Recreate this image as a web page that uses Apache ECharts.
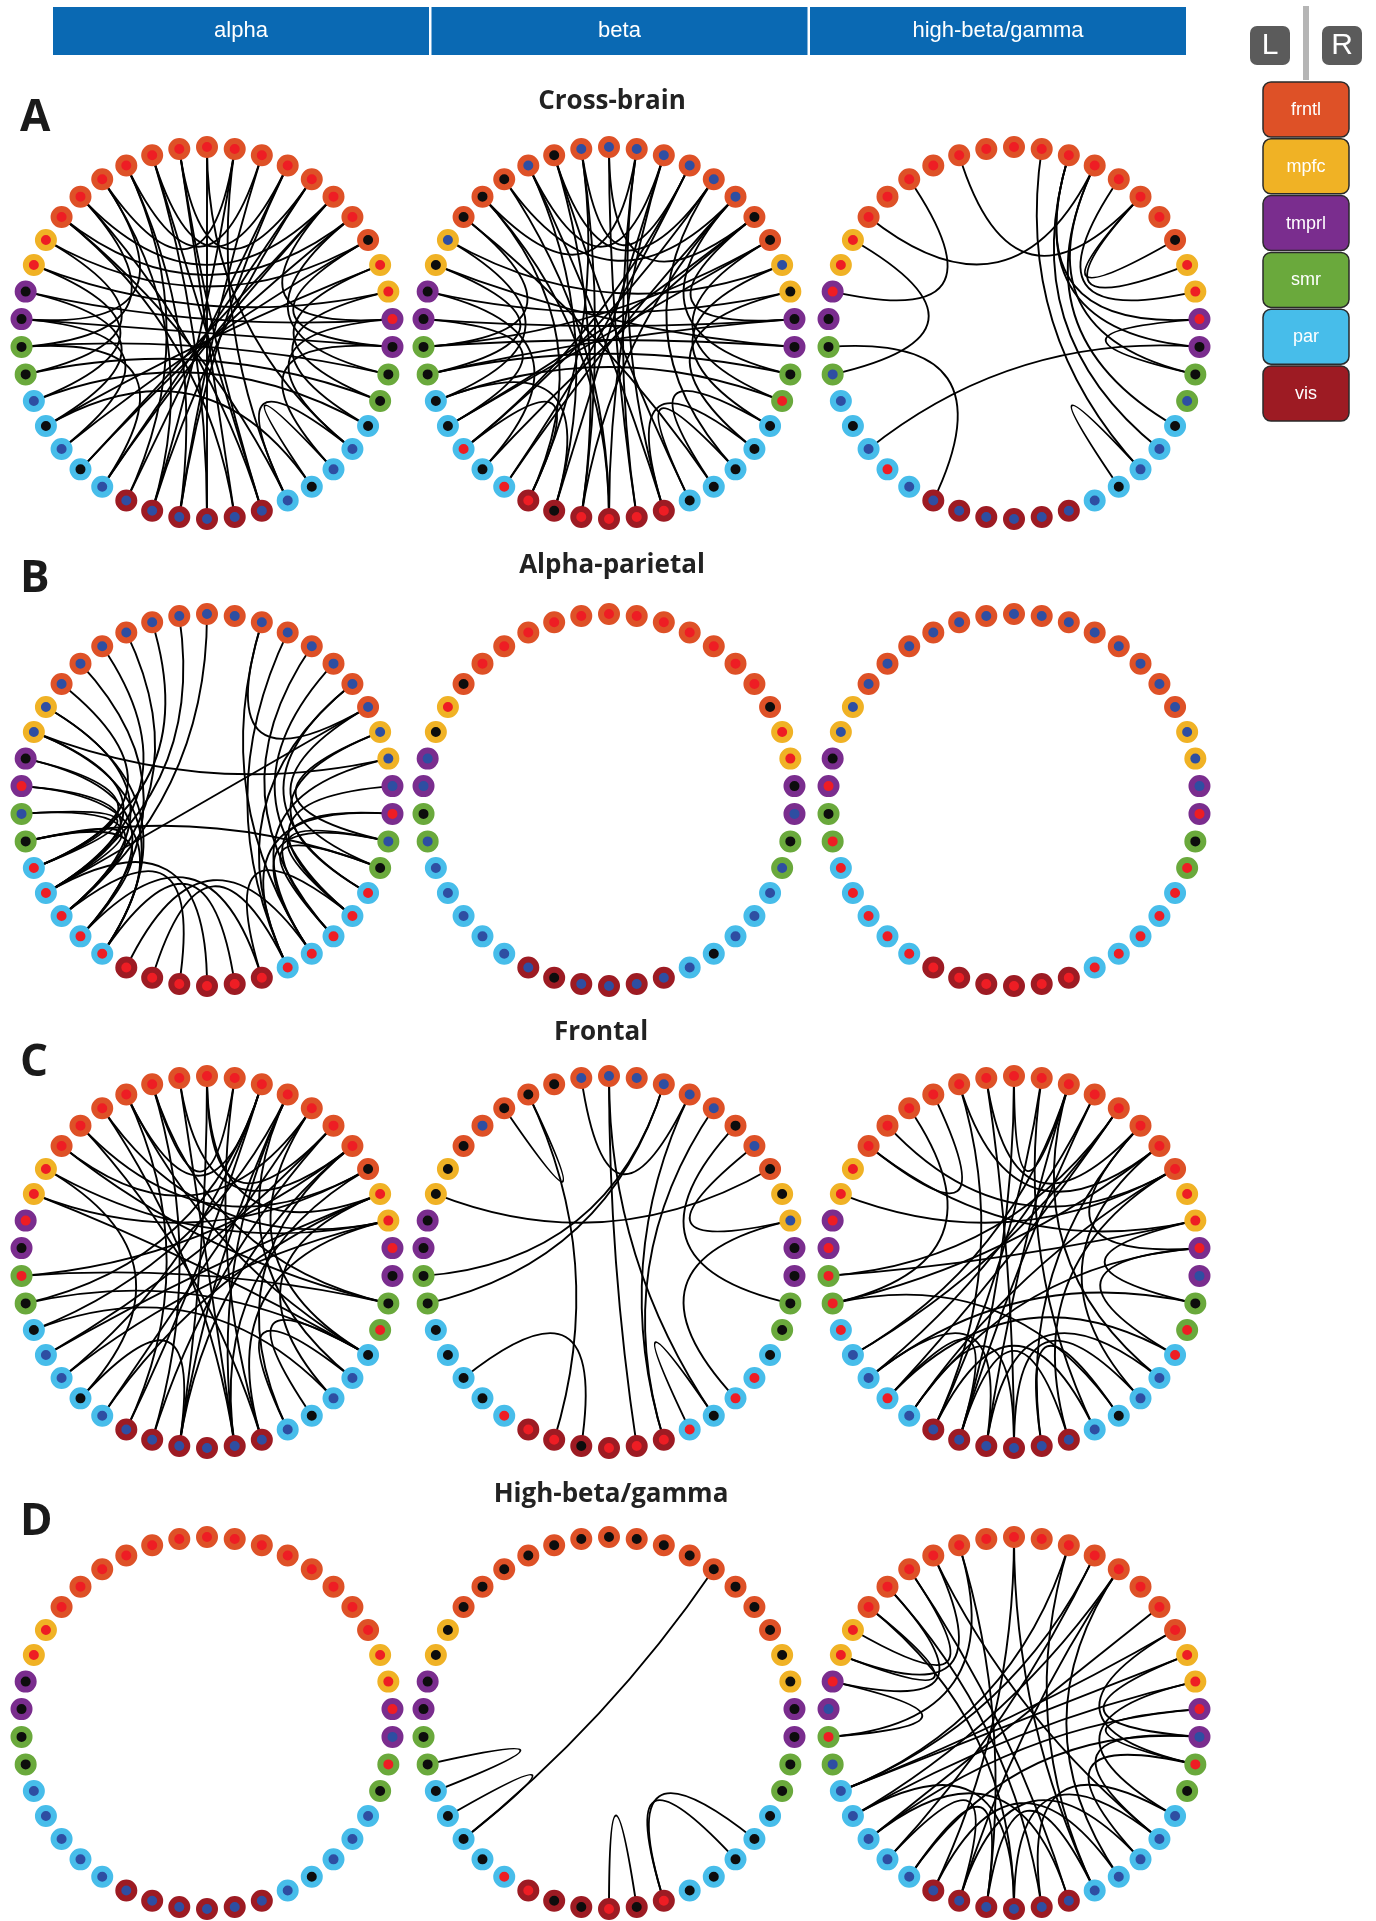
<!DOCTYPE html>
<html>
<head>
<meta charset="utf-8">
<script src="https://cdn.jsdelivr.net/npm/echarts@6/dist/echarts.min.js"></script>
<style>
  html, body { margin: 0; padding: 0; background: #fff; }
  #main { width: 1376px; height: 1921px; }
</style>
</head>
<body>
<div id="main"></div>
<script>
// bands (columns) and network rows
var bands = ['alpha', 'beta', 'high-beta/gamma'];
var rowTitles = ['Cross-brain', 'Alpha-parietal', 'Frontal', 'High-beta/gamma'];
var rowLetters = ['A', 'B', 'C', 'D'];
var legendRegions = ['frntl', 'mpfc', 'tmprl', 'smr', 'par', 'vis'];

// ring order, counter-clockwise from the top: left hemisphere, then right hemisphere (mirrored)
var leftHemi = ['frntl', 'frntl', 'frntl', 'frntl', 'frntl', 'frntl', 'frntl', 'mpfc', 'mpfc',
  'tmprl', 'tmprl', 'smr', 'smr', 'par', 'par', 'par', 'par', 'par', 'vis', 'vis', 'vis'];
var rightHemi = leftHemi.slice().reverse();
var ringRegions = leftHemi.concat(rightHemi);

// inner dot of each node (r = red, b = blue, k = black), same ring order
var dotsCross = [
  'rrrrrrr rr kk kk bkbkb bbb bbb bkbbk kk kr rr krrrrrr',
  'bbkbkkk bk kk kk kkrkr rkr rrr kkkkk rk kk kb kkbbbbb',
  'rrrrrrr rr rk kb bkbrb bbb bbb bkbbk bk kr rr krrrrrr'
];
var dotsParietal = [
  'bbbbbbb bb kr bk rrrrr rrr rrr rrrrr kb rb bb bbbbbbb',
  'rrrrrrk rk bb kb bbbbb bkb bbb bkbbb bk bk rr krrrrrr',
  'bbbbbbb bb kr kr rrrrr rrr rrr rrrrr rk rb bb bbbbbbb'
];
var dotsFrontal = [
  'rrrrrrr rr rk rk kbbkb bbb bbb bkbbk rk kr rr krrrrrr',
  'bbkkkbk kk kk kk kkkkr rrk rrr rkrrk kk kk bk kbkbbbb',
  'rrrrrrr rr rr rr rbbrb bbb bbb bkbbr rk br rr rrrrrrr'
];
var dotsGamma = [
  'rrrrrrr rr kk kk bbbbb bbb bbb bkbbb kr br rr rrrrrrr',
  'kkkkkkk kk kk kk kkkkr rkk rkr kkkkk kk kk kk kkkkkkk',
  'rrrrrrr rr rb rb bbbbb bbb bbb bbbbb kr br rr rrrrrrr'
];

// connections (pairs of ring positions)
var edgesCross = [
  [[0,21],[1,22],[2,23],[3,20],[4,19],[5,23],[6,24],[41,24],[40,20],[39,18],[38,19],[37,17],[36,16],
   [9,32],[10,31],[11,30],[12,29],[8,33],[13,28],[14,34],[15,35],[16,37],[17,38],
   [7,12],[8,13],[9,14],[10,15],[11,17],[4,10],[5,11],
   [28,33],[29,34],[30,36],[31,35],[32,37],[27,32],[26,31],[25,26],[24,27],
   [1,38],[2,39],[3,40],[4,41],[5,37],[6,36],
   [18,3],[19,41],[20,39],[21,2],[22,6],[23,1],[0,27],[7,35],[14,25]],
  [[0,22],[1,20],[2,24],[3,19],[4,21],[5,18],[6,25],[41,23],[40,21],[39,17],[38,15],[37,20],[36,14],
   [8,31],[9,33],[10,32],[11,31],[12,30],[13,29],[7,34],[14,35],[16,36],[17,37],[15,39],
   [6,11],[7,13],[8,12],[9,16],[10,14],[18,15],[19,13],
   [24,26],[25,28],[27,33],[28,34],[29,35],[30,37],[32,36],[26,38],[23,27],
   [2,38],[3,40],[1,39],[4,37],[5,41],[0,36],
   [18,1],[19,40],[20,2],[21,5],[22,41],[23,3],[11,35],[12,32]],
  [[2,37],[6,39],[4,9],[7,12],[11,18],[15,31],[25,26],[30,32],[35,37],[34,37],[33,38],
   [41,26],[40,27],[40,32],[39,30],[39,28],[40,31]]
];
var edgesParietal = [
  [[1,14],[2,13],[3,15],[4,14],[5,16],[6,13],[7,15],[8,14],[8,17],[9,13],[9,16],[10,14],[10,17],
   [11,15],[11,13],[12,16],[12,14],[7,17],[0,15],
   [24,39],[25,40],[26,38],[27,37],[28,36],[29,35],[30,34],[31,26],[32,27],[33,25],[34,28],
   [24,31],[25,30],[35,40],[36,24],[29,26],[30,27],
   [8,33],[14,35],[12,29],
   [18,25],[19,24],[20,15],[21,14],[22,17],[23,16],[23,27]],
  [],
  []
];
var edgesFrontal = [
  [[0,20],[0,37],[0,34],[1,22],[1,36],[2,19],[2,30],[3,18],[3,28],[4,33],[4,22],[5,35],[5,23],
   [6,30],[6,38],[7,33],[7,16],[8,28],[8,35],[40,3],[40,15],[40,12],[39,13],[39,22],[38,17],
   [37,14],[36,11],[41,23],[41,2],[11,30],[12,28],[13,26],[14,34],[15,33],[16,20],[17,34],
   [24,27],[25,28],[26,34],[24,36],[27,39],[28,38],[18,40],[19,37],[20,36],[22,35],[23,33],[39,20]],
  [[3,4],[3,19],[1,39],[0,22],[0,25],[40,11],[40,12],[39,23],[38,23],[37,30],[36,33],[8,35],
   [26,33],[24,25],[15,20]],
  [[0,19],[0,40],[1,21],[1,37],[2,36],[2,18],[3,6],[4,12],[5,35],[6,33],[8,35],[41,24],[41,18],
   [40,20],[40,14],[39,15],[39,19],[38,11],[38,16],[37,22],[36,12],[35,23],[35,17],[11,33],
   [12,25],[14,38],[15,30],[16,28],[17,32],[18,24],[19,23],[20,27],[21,26],[22,25],[17,21],
   [16,19],[15,20],[28,32],[30,33],[32,37],[26,36],[27,40]]
];
var edgesGamma = [
  [],
  [[12,13],[14,15],[15,38],[21,22],[23,26],[23,27]],
  [[3,8],[4,7],[5,9],[6,8],[2,11],[3,27],[0,18],[0,24],[4,23],[40,13],[39,13],[38,14],[38,19],
   [36,15],[35,13],[35,30],[39,16],[9,11],[13,34],[14,33],[15,32],[17,31],[18,25],[19,26],
   [20,24],[21,27],[22,28],[23,15],[19,16],[20,17],[21,14],[31,34],[30,32],[28,33],[27,31],
   [26,30],[24,40],[25,38],[2,20],[5,22],[6,21]]
];

var regionColors = {
  frntl: '#de5127', mpfc: '#f0b225', tmprl: '#7a2d8e',
  smr: '#6aa93c', par: '#47bdea', vis: '#9d1b23'
};
var dotColors = { r: '#ee1d24', b: '#2e4ea2', k: '#0d0d0d' };

var colX = [207, 609, 1014];
var rowY = [333, 800, 1262, 1723];
var ringR = 186;
var N = ringRegions.length;

var rows = [
  { dots: dotsCross, edges: edgesCross },
  { dots: dotsParietal, edges: edgesParietal },
  { dots: dotsFrontal, edges: edgesFrontal },
  { dots: dotsGamma, edges: edgesGamma }
];

var polar = [], angleAxis = [], radiusAxis = [], series = [];
rows.forEach(function (row, r) {
  for (var c = 0; c < 3; c++) {
    var idx = polar.length;
    polar.push({ center: [colX[c], rowY[r]], radius: ringR });
    angleAxis.push({ polarIndex: idx, type: 'value', min: 0, max: N, startAngle: 90,
      clockwise: false, show: false });
    radiusAxis.push({ polarIndex: idx, type: 'value', min: 0, max: 1, show: false });

    var dots = row.dots[c].replace(/ /g, '');
    var nodes = ringRegions.map(function (reg, k) {
      return {
        name: 'n' + k,
        value: [1, k],
        itemStyle: { color: dotColors[dots[k]], borderColor: regionColors[reg], borderWidth: 6 }
      };
    });
    // quadratic curves with the control point in the ring centre
    var links = row.edges[c].map(function (e) {
      var a = e[0], b = e[1];
      var d = ((b - a) % N + N) % N;
      if (d > N / 2) { var t = a; a = b; b = t; d = N - d; }
      var half = Math.PI * d / N;
      return { source: 'n' + a, target: 'n' + b, lineStyle: { curveness: 0.5 / Math.tan(half) } };
    });
    series.push({
      type: 'graph',
      coordinateSystem: 'polar',
      polarIndex: idx,
      symbol: 'circle',
      symbolSize: 16,
      silent: true,
      animation: false,
      label: { show: false },
      lineStyle: { color: '#000', width: 1.9, opacity: 1 },
      data: nodes,
      links: links
    });
  }
});

var graphic = [];
// band header
bands.forEach(function (b, i) {
  var x = 53 + i * 378.5;
  graphic.push({ type: 'rect', shape: { x: x, y: 7, width: 376, height: 48 }, style: { fill: '#0a69b3' } });
  graphic.push({ type: 'text', x: x + 188, y: 31, style: { text: b, fill: '#fff',
    font: '22px "Liberation Sans", Arial, sans-serif', textAlign: 'center', textVerticalAlign: 'middle' } });
});
// hemisphere key
graphic.push({ type: 'rect', shape: { x: 1303, y: 6, width: 6, height: 74 }, style: { fill: '#b5b5b5' } });
[['L', 1250], ['R', 1322]].forEach(function (h) {
  graphic.push({ type: 'rect', shape: { x: h[1], y: 26, width: 40, height: 39, r: 7 }, style: { fill: '#5b5b5b' } });
  graphic.push({ type: 'text', x: h[1] + 20, y: 46, style: { text: h[0], fill: '#fff',
    font: '30px "Liberation Sans", Arial, sans-serif', textAlign: 'center', textVerticalAlign: 'middle' } });
});
// region legend
legendRegions.forEach(function (reg, i) {
  var top = 82 + i * 56.8;
  graphic.push({ type: 'rect', shape: { x: 1263, y: top, width: 86, height: 55, r: 8 },
    style: { fill: regionColors[reg], stroke: '#2a2a2a', lineWidth: 1.5 } });
  graphic.push({ type: 'text', x: 1306, y: top + 28, style: { text: reg, fill: '#fff',
    font: '18px "Liberation Sans", Arial, sans-serif', textAlign: 'center', textVerticalAlign: 'middle' } });
});
// row letters and titles
var letterY = [118, 579, 1063, 1522];
var titlePos = [[612, 102], [612, 566], [601, 1033], [611, 1495]];
rowLetters.forEach(function (L, i) {
  graphic.push({ type: 'text', x: 20, y: letterY[i], style: { text: L, fill: '#1a1a1a',
    font: 'bold 44px "Open Sans", sans-serif', textVerticalAlign: 'middle' } });
  graphic.push({ type: 'text', x: titlePos[i][0], y: titlePos[i][1], style: { text: rowTitles[i], fill: '#222',
    font: 'bold 26px "Open Sans", sans-serif', textAlign: 'center', textVerticalAlign: 'middle' } });
});

var myChart = echarts.init(document.getElementById('main'));
myChart.setOption({
  backgroundColor: '#fff',
  animation: false,
  polar: polar,
  angleAxis: angleAxis,
  radiusAxis: radiusAxis,
  graphic: graphic,
  series: series
});
</script>
</body>
</html>
